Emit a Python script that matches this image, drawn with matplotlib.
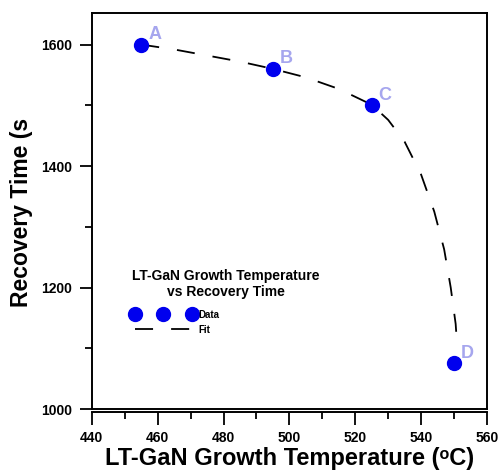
import matplotlib
matplotlib.use("Agg")
import matplotlib.pyplot as plt
from matplotlib.ticker import MultipleLocator
from matplotlib.lines import Line2D

plt.rcParams['font.family'] = ['Liberation Sans', 'DejaVu Sans']
plt.rcParams['font.weight'] = 'bold'

# 측정점 (성장온도 °C, 회복시간 s)
temp = [455, 495, 525, 550]
recovery = [1600, 1560, 1500, 1075]
point_labels = ["A", "B", "C", "D"]

# 그림에서 읽은 피팅 곡선
fit_temp = [455, 465, 475, 485, 495, 505, 515, 525, 530, 535, 540, 544, 547, 549, 550.5, 551]
fit_rec = [1600, 1592, 1582, 1572, 1560, 1546, 1527, 1501, 1476, 1440, 1386, 1325, 1263, 1200, 1140, 1100]

fig = plt.figure(figsize=(5.02, 4.71), dpi=100)
ax = fig.add_axes([0.183, 0.1316, 0.787, 0.8408])

fit_line, = ax.plot(fit_temp, fit_rec, color="black", lw=1.3, dashes=(10, 10), label="Fit", zorder=2)
data_line, = ax.plot(temp, recovery, "o", color="#0000ee", ms=10, ls="none", label="Data", zorder=3)
for x, y, s in zip(temp, recovery, point_labels):
    ax.annotate(s, (x, y), xytext=(5, 4), textcoords="offset points",
                color="#a6a6ee", fontsize=13, fontweight="bold")

ax.set_xlim(440, 560)
ax.set_ylim(1000, 1652)
ax.xaxis.set_major_locator(MultipleLocator(20))
ax.xaxis.set_minor_locator(MultipleLocator(10))
ax.yaxis.set_major_locator(MultipleLocator(200))
ax.yaxis.set_minor_locator(MultipleLocator(100))
ax.tick_params(which="major", length=9, width=1.3, labelsize=10)
ax.tick_params(which="minor", length=5, width=1.3)
ax.tick_params(axis="x", pad=4)
ax.tick_params(axis="y", pad=5)
for sp in ax.spines.values():
    sp.set_linewidth(1.4)
ax.spines["bottom"].set_position(("outward", 2.5))
# 박스 아랫변 (x축은 약간 떨어져 있음)
ax.add_line(Line2D([0, 1], [0, 0], transform=ax.transAxes, color="black", lw=1.4, clip_on=False))

ax.set_xlabel("LT-GaN Growth Temperature (ᵒC)", fontsize=17, fontweight="bold", labelpad=2)
fig.text(0.042, 0.55, "Recovery Time (s", rotation=90, fontsize=16.5, fontweight="bold",
         ha="center", va="center")

leg = ax.legend(handles=[data_line, fit_line], loc="upper left",
                bbox_to_anchor=(0.08, 0.375), frameon=False, numpoints=3,
                handlelength=6.4, handletextpad=0.4, labelspacing=0.5, fontsize=7,
                title="LT-GaN Growth Temperature\nvs Recovery Time",
                title_fontproperties={"size": 10, "weight": "bold"})
leg._legend_box.align = "left"
leg._legend_box.sep = 7.5
leg.get_title().set_multialignment("center")

fig.savefig("out.png", dpi=100)
